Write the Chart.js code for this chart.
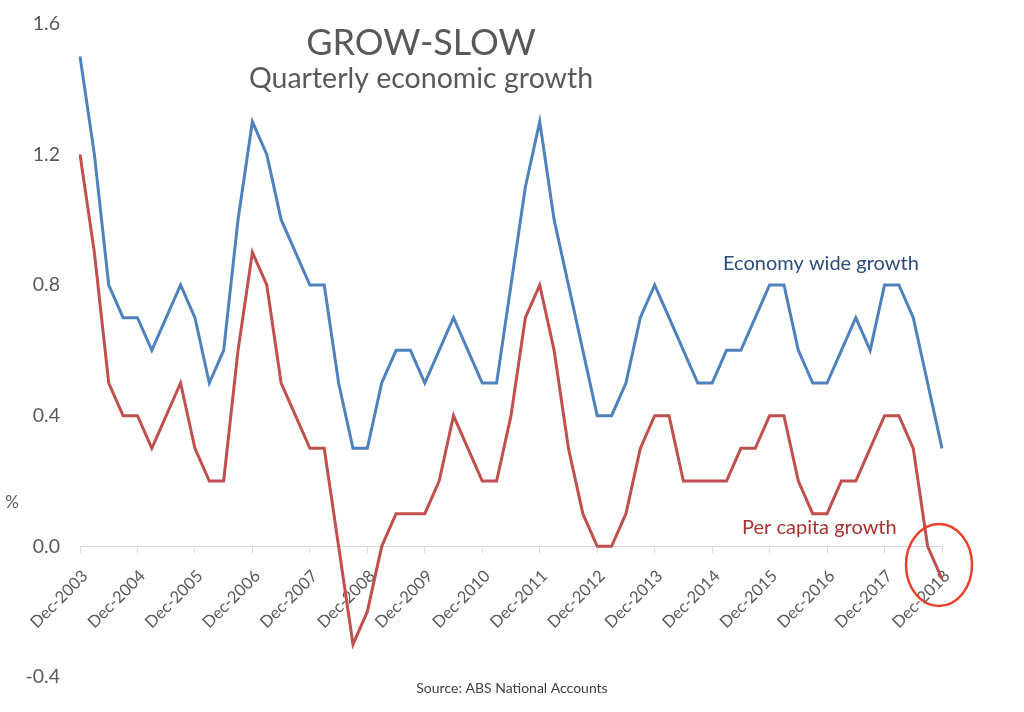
<!DOCTYPE html>
<html lang="en">
<head>
<meta charset="UTF-8" />
<title>GROW-SLOW: quarterly economic growth</title>
<script src="https://cdn.jsdelivr.net/npm/chart.js"></script>
<style>
  html, body { margin: 0; padding: 0; background: #fff; }
  #wrap { position: relative; width: 1024px; height: 712px; }
</style>
</head>
<body>
<div id="wrap"><canvas id="growthChart"></canvas></div>
<script>
  // quarterly periods, Dec-2003 .. Dec-2018
  const quarters = [
    'Dec-2003',
    'Mar-2004','Jun-2004','Sep-2004','Dec-2004',
    'Mar-2005','Jun-2005','Sep-2005','Dec-2005',
    'Mar-2006','Jun-2006','Sep-2006','Dec-2006',
    'Mar-2007','Jun-2007','Sep-2007','Dec-2007',
    'Mar-2008','Jun-2008','Sep-2008','Dec-2008',
    'Mar-2009','Jun-2009','Sep-2009','Dec-2009',
    'Mar-2010','Jun-2010','Sep-2010','Dec-2010',
    'Mar-2011','Jun-2011','Sep-2011','Dec-2011',
    'Mar-2012','Jun-2012','Sep-2012','Dec-2012',
    'Mar-2013','Jun-2013','Sep-2013','Dec-2013',
    'Mar-2014','Jun-2014','Sep-2014','Dec-2014',
    'Mar-2015','Jun-2015','Sep-2015','Dec-2015',
    'Mar-2016','Jun-2016','Sep-2016','Dec-2016',
    'Mar-2017','Jun-2017','Sep-2017','Dec-2017',
    'Mar-2018','Jun-2018','Sep-2018','Dec-2018'
  ];

  // % growth per quarter
  const economyWide = [
    1.5,
    1.2, 0.8, 0.7, 0.7,
    0.6, 0.7, 0.8, 0.7,
    0.5, 0.6, 1.0, 1.3,
    1.2, 1.0, 0.9, 0.8,
    0.8, 0.5, 0.3, 0.3,
    0.5, 0.6, 0.6, 0.5,
    0.6, 0.7, 0.6, 0.5,
    0.5, 0.8, 1.1, 1.3,
    1.0, 0.8, 0.6, 0.4,
    0.4, 0.5, 0.7, 0.8,
    0.7, 0.6, 0.5, 0.5,
    0.6, 0.6, 0.7, 0.8,
    0.8, 0.6, 0.5, 0.5,
    0.6, 0.7, 0.6, 0.8,
    0.8, 0.7, 0.5, 0.3
  ];
  const perCapita = [
    1.2,
    0.9, 0.5, 0.4, 0.4,
    0.3, 0.4, 0.5, 0.3,
    0.2, 0.2, 0.6, 0.9,
    0.8, 0.5, 0.4, 0.3,
    0.3, 0.0, -0.3, -0.2,
    0.0, 0.1, 0.1, 0.1,
    0.2, 0.4, 0.3, 0.2,
    0.2, 0.4, 0.7, 0.8,
    0.6, 0.3, 0.1, 0.0,
    0.0, 0.1, 0.3, 0.4,
    0.4, 0.2, 0.2, 0.2,
    0.2, 0.3, 0.3, 0.4,
    0.4, 0.2, 0.1, 0.1,
    0.2, 0.2, 0.3, 0.4,
    0.4, 0.3, 0.0, -0.1
  ];

  const yTicks = [-0.4, 0.0, 0.4, 0.8, 1.2, 1.6];

  const isDec = i => quarters[i] && quarters[i].startsWith('Dec');

  // titles, series labels, source note and the circle round the latest quarter
  const notes = {
    id: 'notes',
    afterDraw(chart) {
      const c = chart.ctx;
      c.save();
      c.textAlign = 'center';
      c.textBaseline = 'alphabetic';
      c.fillStyle = '#595959';
      c.font = '36px Lato';
      c.fillText('GROW-SLOW', 421, 55);
      c.font = '28.5px Lato';
      c.fillText('Quarterly economic growth', 421, 88);

      c.font = '17px Lato';
      c.fillText('%', 12, 508);

      c.textAlign = 'left';
      c.fillStyle = '#2c4c7c';
      c.font = '20px Lato';
      c.fillText('Economy wide growth', 723, 270);
      c.fillStyle = '#a8322d';
      c.fillText('Per capita growth', 742, 534);

      c.textAlign = 'center';
      c.fillStyle = '#404040';
      c.font = '14px Lato';
      c.fillText('Source: ABS National Accounts', 512, 693);

      const last = perCapita.length - 1;
      const px = chart.scales.x.getPixelForValue(last);
      const py = chart.scales.y.getPixelForValue(perCapita[last]);
      c.strokeStyle = '#e8402a';
      c.lineWidth = 2.5;
      c.beginPath();
      c.ellipse(px - 3, py - 14, 33, 41, 0, 0, Math.PI * 2);
      c.stroke();
      c.restore();
    }
  };

  new Chart(document.getElementById('growthChart'), {
    type: 'line',
    data: {
      labels: quarters,
      datasets: [
        {
          label: 'Economy wide growth',
          data: economyWide,
          borderColor: '#4f81bd',
          borderWidth: 3,
          pointRadius: 0,
          tension: 0
        },
        {
          label: 'Per capita growth',
          data: perCapita,
          borderColor: '#c0504d',
          borderWidth: 3,
          pointRadius: 0,
          tension: 0
        }
      ]
    },
    options: {
      responsive: true,
      maintainAspectRatio: false,
      animation: false,
      layout: { padding: { top: 13, right: 82, bottom: 35, left: 0 } },
      plugins: {
        legend: { display: false },
        tooltip: { enabled: false }
      },
      scales: {
        x: {
          position: { y: 0 },
          grid: {
            drawOnChartArea: false,
            drawTicks: true,
            tickLength: 6,
            color: c => isDec(c.index) ? '#d9d9d9' : 'rgba(0,0,0,0)'
          },
          border: { display: true, color: '#d9d9d9', width: 1 },
          ticks: {
            autoSkip: false,
            minRotation: 45,
            maxRotation: 45,
            padding: 14,
            labelOffset: 5,
            color: '#595959',
            font: { family: 'Lato', size: 16.5 },
            callback: (v, i) => isDec(i) ? quarters[i] : ''
          }
        },
        y: {
          min: -0.4,
          max: 1.6,
          afterFit: s => { s.width = 80; },
          afterBuildTicks: s => { s.ticks = yTicks.map(v => ({ value: v })); },
          grid: { display: false },
          border: { display: false },
          ticks: {
            padding: 12,
            color: '#595959',
            font: { family: 'Lato', size: 19.5 },
            callback: v => Number(v).toFixed(1)
          }
        }
      }
    },
    plugins: [notes]
  });
</script>
</body>
</html>
